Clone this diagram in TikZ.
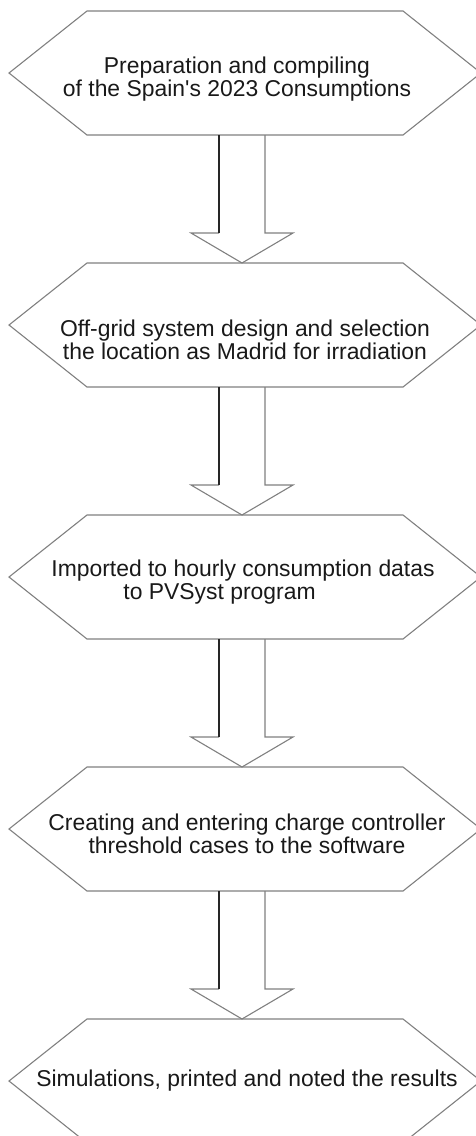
\documentclass[tikz,border=0pt]{standalone}
\usepackage{fontspec}
\setmainfont{Liberation Sans}
\usetikzlibrary{positioning,calc}

\tikzset{
  stepbox/.style={minimum width=472pt, minimum height=124pt, inner sep=0pt, outer sep=0pt},
  steptext/.style={align=center, font=\fontsize{22.9}{23}\selectfont, text=black!90},
  hexline/.style={draw=black!50, line width=1.1pt},
}
% hexagon round an empty step node
\newcommand{\hexframe}[1]{%
  \draw[hexline] ($(#1.north west)+(78,0)$) -- ($(#1.north east)+(-78,0)$) -- (#1.east)
    -- ($(#1.south east)+(-78,0)$) -- ($(#1.south west)+(78,0)$) -- (#1.west) -- cycle;}
% hollow arrow from one step to the next
\newcommand{\flowarrow}[2]{%
  \draw[hexline] ($(#1.south)+(20,0)$) -- ($(#2.north)+(20,-30)$) -- ($(#2.north)+(48,-30)$)
    -- ($(#2.north)+(-3,0)$) -- ($(#2.north)+(-54,-30)$) -- ($(#2.north)+(-26,-30)$);
  \draw[draw=black!85, line width=1.1pt] ($(#1.south)+(-26,0)$) -- ($(#2.north)+(-26,-30)$);}

\begin{document}
\begin{tikzpicture}[x=1pt,y=-1pt]
\useasboundingbox (0,0) rectangle (476,1136);

\node[stepbox] (s1) at (245,73) {};
\node[stepbox,below=128pt of s1] (s2) {};
\node[stepbox,below=128pt of s2] (s3) {};
\node[stepbox,below=128pt of s3] (s4) {};
\node[stepbox,below=128pt of s4] (s5) {};

\hexframe{s1}
\hexframe{s2}
\hexframe{s3}
\hexframe{s4}
\hexframe{s5}

\node[steptext] (t1) at ([xshift=-8pt,yshift=-6pt]s1.center) {Preparation and compiling\\of the Spain\textquotesingle s 2023 Consumptions};
\node[steptext] (t2) at ([yshift=-15pt]s2.center) {Off-grid system design and selection\\the location as Madrid for irradiation};
\node[steptext,align=left] (t3) at ([xshift=-2pt,yshift=-5pt]s3.center) {Imported to hourly consumption datas\\\hspace*{72pt}to PVSyst program};
\node[steptext] (t4) at ([xshift=2pt,yshift=-5pt]s4.center) {Creating and entering charge controller\\threshold cases to the software};
\node[steptext] (t5) at ([xshift=2pt]s5.center) {Simulations, printed and noted the results};

\flowarrow{s1}{s2}
\flowarrow{s2}{s3}
\flowarrow{s3}{s4}
\flowarrow{s4}{s5}
\end{tikzpicture}
\end{document}
